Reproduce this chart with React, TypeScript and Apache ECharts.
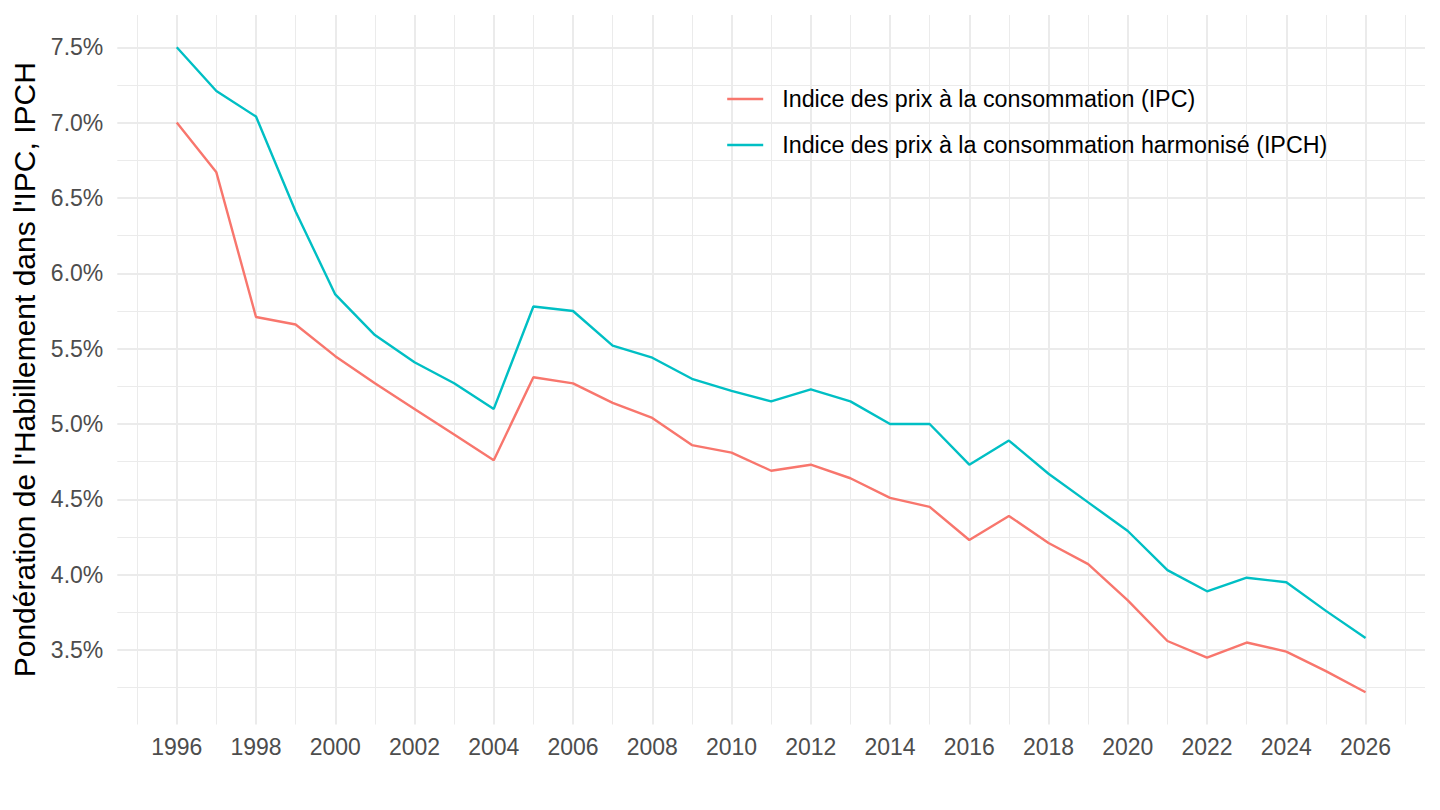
import React, { useEffect, useRef } from "react";
import * as echarts from "echarts";

const years = [1996, 1997, 1998, 1999, 2000, 2001, 2002, 2003, 2004, 2005, 2006, 2007, 2008, 2009, 2010, 2011, 2012, 2013, 2014, 2015, 2016, 2017, 2018, 2019, 2020, 2021, 2022, 2023, 2024, 2025, 2026];
const ipc = [7.0, 6.67, 5.71, 5.66, 5.45, 5.27, 5.1, 4.93, 4.76, 5.31, 5.27, 5.14, 5.04, 4.86, 4.81, 4.69, 4.73, 4.64, 4.51, 4.45, 4.23, 4.39, 4.21, 4.07, 3.83, 3.56, 3.45, 3.55, 3.49, 3.36, 3.22];
const ipch = [7.5, 7.21, 7.04, 6.41, 5.86, 5.59, 5.41, 5.27, 5.1, 5.78, 5.75, 5.52, 5.44, 5.3, 5.22, 5.15, 5.23, 5.15, 5.0, 5.0, 4.73, 4.89, 4.67, 4.48, 4.29, 4.03, 3.89, 3.98, 3.95, 3.76, 3.58];
const seriesNames = ["Indice des prix à la consommation (IPC)", "Indice des prix à la consommation harmonisé (IPCH)"];
const seriesColors = ["#F8766D", "#00BFC4"];
const yTitle = "Pondération de l'Habillement dans l'IPC, IPCH";

const xMajor = [1996, 1998, 2000, 2002, 2004, 2006, 2008, 2010, 2012, 2014, 2016, 2018, 2020, 2022, 2024, 2026];
const xMinor = [1995, 1997, 1999, 2001, 2003, 2005, 2007, 2009, 2011, 2013, 2015, 2017, 2019, 2021, 2023, 2025, 2027];
const yMajor = [3.5, 4.0, 4.5, 5.0, 5.5, 6.0, 6.5, 7.0, 7.5];
const yMinor = [3.25, 3.75, 4.25, 4.75, 5.25, 5.75, 6.25, 6.75, 7.25];

const FONT = "'Liberation Sans', Arial, Helvetica, sans-serif";

export default function App() {
  const ref = useRef<HTMLDivElement>(null);
  useEffect(() => {
    if (!ref.current) return;
    const chart = echarts.init(ref.current, undefined, { renderer: "svg" });
    const allVals = ipc.concat(ipch);
    const lo = Math.min(...allVals);
    const hi = Math.max(...allVals);
    const yPad = (hi - lo) * 0.05;
    const xPad = (years[years.length - 1] - years[0]) * 0.05;

    const gridLines = [
      ...xMajor.map((v) => ({ xAxis: v, lineStyle: { width: 2 } })),
      ...xMinor.map((v) => ({ xAxis: v, lineStyle: { width: 1 } })),
      ...yMajor.map((v) => ({ yAxis: v, lineStyle: { width: 2 } })),
      ...yMinor.map((v) => ({ yAxis: v, lineStyle: { width: 1 } })),
    ];

    chart.setOption({
      animation: false,
      backgroundColor: "#FFFFFF",
      textStyle: { fontFamily: FONT },
      grid: { left: 117.3, right: 15, top: 15, bottom: 85.5, containLabel: false },
      legend: {
        data: seriesNames,
        orient: "vertical",
        left: 726,
        top: 87,
        padding: 0,
        itemWidth: 36,
        itemHeight: 14,
        itemGap: 22,
        itemStyle: { opacity: 0 },
        lineStyle: { width: 2.4 },
        textStyle: { fontSize: 23.3, color: "#000000", fontFamily: FONT, lineHeight: 24, padding: [0, 0, 0, 14] },
      },
      xAxis: {
        type: "value",
        min: years[0] - xPad,
        max: years[years.length - 1] + xPad,
        minInterval: 2,
        maxInterval: 2,
        axisLine: { show: false },
        axisTick: { show: false },
        splitLine: { show: false },
        axisLabel: {
          margin: 11,
          fontSize: 23,
          color: "#4D4D4D",
          fontFamily: FONT,
          showMinLabel: true,
          showMaxLabel: true,
          formatter: (v: number) => (Math.abs(v - Math.round(v)) < 1e-6 ? String(Math.round(v)) : ""),
        },
      },
      yAxis: {
        type: "value",
        min: lo - yPad,
        max: hi + yPad,
        minInterval: 0.5,
        maxInterval: 0.5,
        axisLine: { show: false },
        axisTick: { show: false },
        splitLine: { show: false },
        name: yTitle,
        nameLocation: "middle",
        nameGap: 71,
        nameTextStyle: { fontSize: 30, color: "#000000", fontFamily: FONT },
        axisLabel: {
          margin: 14,
          fontSize: 23,
          color: "#4D4D4D",
          fontFamily: FONT,
          formatter: (v: number) => (Math.abs(v * 2 - Math.round(v * 2)) < 1e-6 ? v.toFixed(1) + "%" : ""),
        },
      },
      series: [
        {
          name: "__grid",
          type: "line",
          z: 1,
          data: years.map((y, i) => [y, ipc[i]]),
          symbol: "none",
          lineStyle: { opacity: 0 },
          silent: true,
          markLine: {
            silent: true,
            z: 1,
            symbol: ["none", "none"],
            label: { show: false },
            lineStyle: { color: "#EBEBEB", type: "solid" },
            emphasis: { disabled: true },
            data: gridLines,
          },
        },
        {
          name: seriesNames[0],
          type: "line",
          z: 10,
          data: years.map((y, i) => [y, ipc[i]]),
          symbol: "none",
          showSymbol: false,
          color: seriesColors[0],
          lineStyle: { color: seriesColors[0], width: 2.4 },
        },
        {
          name: seriesNames[1],
          type: "line",
          z: 10,
          data: years.map((y, i) => [y, ipch[i]]),
          symbol: "none",
          showSymbol: false,
          color: seriesColors[1],
          lineStyle: { color: seriesColors[1], width: 2.4 },
        },
      ],
    });
    return () => chart.dispose();
  }, []);
  return (
    <div
      ref={ref}
      style={{ position: "fixed", left: 0, top: 0, width: 1440, height: 810, background: "#fff" }}
    />
  );
}
